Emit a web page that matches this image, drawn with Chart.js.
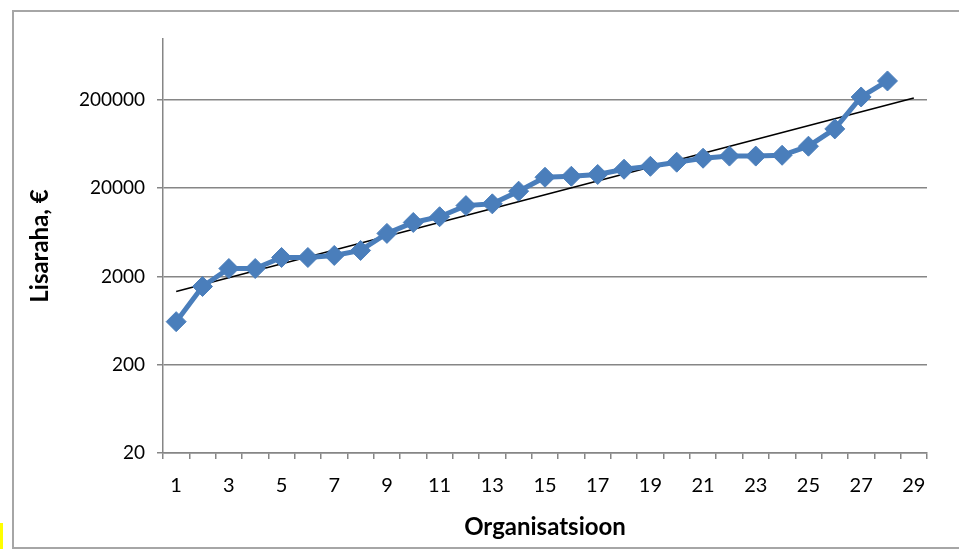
<!DOCTYPE html>
<html>
<head>
<meta charset="utf-8">
<script src="https://cdn.jsdelivr.net/npm/chart.js@4"></script>
<style>
    body { margin: 0; background: #fff; }
    #wrap { position: relative; width: 959px; height: 549px; overflow: hidden; }
    #frame { position: absolute; left: 12px; top: 10px; width: 980px; height: 535px; border: 2px solid #a6a6a6; }
    #mark { position: absolute; left: 0; top: 523px; width: 3px; height: 26px; background: #ffff00; }
    canvas { position: absolute; left: 0; top: 0; }
</style>
</head>
<body>
<div id="wrap">
    <div id="frame"></div>
    <div id="mark"></div>
    <canvas id="lisarahaChart" width="959" height="549"></canvas>
</div>
<script>
// organisatsioonid 1..29 (andmeid 28 kohta)
const categories = ['1','2','3','4','5','6','7','8','9','10','11','12','13','14','15','16','17','18','19','20','21','22','23','24','25','26','27','28','29'];
const lisaraha = [615, 1540, 2460, 2460, 3280, 3280, 3460, 3940, 6150, 8180, 9500, 12700, 13300, 18500, 26600, 27300, 28600, 32800, 35400, 39400, 43700, 46200, 46200, 47200, 59800, 93900, 216000, 328000];
// trendijoon: algus- ja lõpppunkt pildilt loetud
const trendStart = 1350;
const trendEnd = 210000;
const yTicks = [20, 200, 2000, 20000, 200000];

const trend = categories.map(() => null);
trend[0] = trendStart;
trend[categories.length - 1] = trendEnd;

document.addEventListener('DOMContentLoaded', () => {
    const ctx = document.getElementById('lisarahaChart').getContext('2d');
    const axisGrey = '#868686';
    const fontFamily = 'Lato, "Open Sans", sans-serif';

    const data = {
        labels: categories,
        datasets: [{
            label: 'Lisaraha',
            data: lisaraha,
            borderColor: '#4A7EBB',
            backgroundColor: '#4A7EBB',
            borderWidth: 5,
            pointStyle: 'rectRot',
            pointRadius: 10,
            pointBorderWidth: 1,
            tension: 0
        }, {
            label: 'Trend',
            data: trend,
            borderColor: '#000000',
            borderWidth: 1.6,
            pointRadius: 0,
            spanGaps: true
        }]
    };

    const config = {
        type: 'line',
        data: data,
        options: {
            responsive: false,
            animation: false,
            layout: { padding: { top: 39, right: 32, left: 0, bottom: 0 } },
            plugins: {
                legend: { display: false },
                tooltip: { enabled: false }
            },
            scales: {
                x: {
                    type: 'category',
                    offset: true,
                    afterFit: scale => { scale.height = 96; },
                    grid: {
                        offset: true,
                        drawOnChartArea: false,
                        drawTicks: true,
                        tickLength: 6,
                        color: axisGrey,
                        lineWidth: 1.5
                    },
                    border: { color: axisGrey, width: 1.5 },
                    ticks: {
                        autoSkip: false,
                        maxRotation: 0,
                        padding: 15,
                        color: '#000',
                        font: { family: fontFamily, size: 20 },
                        callback: function (value, index) {
                            return index % 2 === 0 ? this.getLabelForValue(value) : '';
                        }
                    },
                    title: {
                        display: true,
                        text: 'Organisatsioon',
                        color: '#000',
                        font: { family: fontFamily, size: 24, weight: 'bold' },
                        padding: { top: 0, bottom: 7 }
                    }
                },
                y: {
                    type: 'logarithmic',
                    min: 20,
                    max: 980000,
                    afterFit: scale => { scale.width = 163; },
                    afterBuildTicks: scale => {
                        scale.ticks = yTicks.map(v => ({ value: v }));
                    },
                    grid: {
                        color: axisGrey,
                        lineWidth: 1.5,
                        tickLength: 6
                    },
                    border: { color: axisGrey, width: 1.5 },
                    ticks: {
                        padding: 12,
                        color: '#000',
                        font: { family: fontFamily, size: 19 },
                        callback: value => String(value)
                    },
                    title: {
                        display: true,
                        text: 'Lisaraha, €',
                        color: '#000',
                        font: { family: fontFamily, size: 24, weight: 'bold' },
                        padding: { top: 26, bottom: 0 }
                    }
                }
            }
        }
    };

    new Chart(ctx, config);
});
</script>
</body>
</html>
